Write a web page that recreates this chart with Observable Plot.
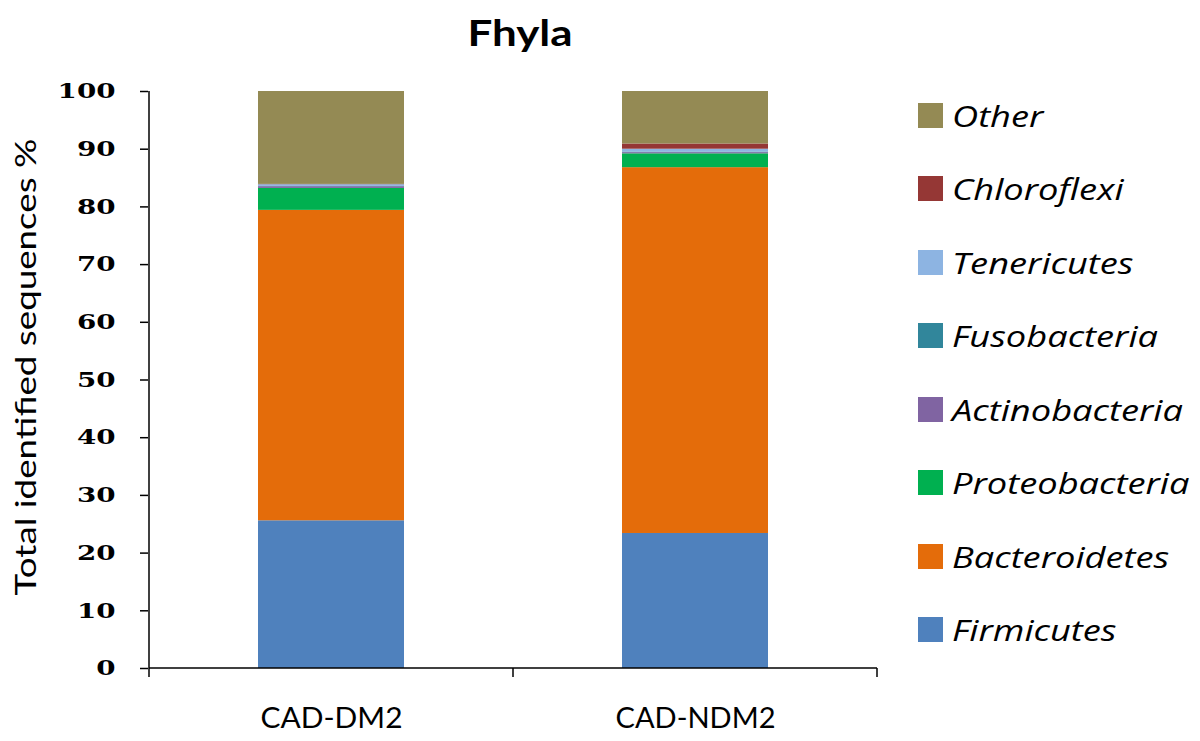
<!DOCTYPE html>
<html>
<head>
<meta charset="utf-8">
<script src="https://cdn.jsdelivr.net/npm/d3@7"></script>
<script src="https://cdn.jsdelivr.net/npm/@observablehq/plot@0.6"></script>
<style>
  body { margin: 0; background: #fff; }
  #wrap { position: relative; width: 1200px; height: 741px; overflow: hidden; }
  #title { position: relative; height: 60px; }
  #title span { position: absolute; left: 520px; top: 12px; transform: translateX(-50%) scaleX(1.22); font-family: Lato, "Open Sans", sans-serif; font-weight: bold; font-size: 36px; line-height: 40px; color: #000; white-space: nowrap; }
  #legend { position: absolute; left: 918px; top: 0; font-family: "Open Sans", Lato, sans-serif; font-style: italic; font-size: 29px; }
  .item { position: absolute; left: 0; display: flex; align-items: center; white-space: nowrap; height: 30px; }
  .sw { width: 25px; height: 25px; margin-right: 9px; flex: none; }
  .lt { display: inline-block; transform: scaleX(1.25); transform-origin: left center; }
</style>
</head>
<body>
<div id="wrap">
  <div id="title"><span>Fhyla</span></div>
  <div id="chart"></div>
  <div id="legend"></div>
</div>
<script>
const groups = ["CAD-DM2", "CAD-NDM2"];
const phyla = ["Firmicutes", "Bacteroidetes", "Proteobacteria", "Actinobacteria", "Fusobacteria", "Tenericutes", "Chloroflexi", "Other"];
const colors = ["#4F81BD", "#E46C0A", "#00B050", "#8064A2", "#31869B", "#8DB4E2", "#953735", "#948A54"];
const dm2 = [25.6, 53.8, 3.8, 0.3, 0.05, 0.3, 0.05, 16.1];
const ndm2 = [23.4, 63.4, 2.4, 0.2, 0.1, 0.5, 0.9, 9.1];
const yTicks = [0, 10, 20, 30, 40, 50, 60, 70, 80, 90, 100];
const yLabel = "Total identified sequences %";

const data = [];
[dm2, ndm2].forEach((vals, gi) => {
  vals.forEach((v, i) => data.push({group: groups[gi], phylum: phyla[i], value: v}));
});

const chart = Plot.plot({
  width: 1200,
  height: 681,
  marginLeft: 148,
  marginRight: 323,
  marginTop: 31,
  marginBottom: 73,
  style: {background: "#fff", color: "#000"},
  x: {domain: groups, paddingInner: 0.6, paddingOuter: 0.3, label: null},
  y: {domain: [0, 100], ticks: yTicks, label: null},
  color: {domain: phyla, range: colors},
  marks: [
    Plot.barY(data, Plot.stackY({order: phyla}, {x: "group", y: "value", fill: "phylum"})),
    Plot.axisY({ticks: yTicks, tickSize: 8, tickPadding: 25, tickFormat: d => String(d), fontFamily: "DejaVu Serif", fontWeight: "bold", fontSize: 21, label: null, strokeWidth: 1.5, className: "ytick"}),
    Plot.axisX({tickSize: 0, tickPadding: 40, fontFamily: "Lato", fontSize: 28, label: null, className: "xtick"}),
    Plot.text([yLabel], {frameAnchor: "left", textAnchor: "middle", dx: -122, dy: -13, rotate: -90, fontFamily: "Lato", fontSize: 29, text: d => d, className: "ylab"})
  ]
});
document.getElementById("chart").appendChild(chart);

const svg = d3.select(chart);
// stretch texts to the reference's proportions
svg.selectAll(".ytick text").each(function() {
  const t = d3.select(this);
  t.attr("textLength", t.text().length * 19.3).attr("lengthAdjust", "spacingAndGlyphs");
});
svg.selectAll(".xtick text").each(function() {
  const t = d3.select(this);
  t.attr("textLength", t.text().length === 7 ? 142 : 160).attr("lengthAdjust", "spacingAndGlyphs");
});
svg.selectAll(".ylab text").attr("textLength", 457).attr("lengthAdjust", "spacingAndGlyphs");

// axis lines and x boundary ticks, positioned with the scales
const xs = chart.scale("x"), ys = chart.scale("y");
const y0 = ys.apply(0), y100 = ys.apply(100);
const step = xs.step;
const left = xs.apply(groups[0]) - (step - xs.bandwidth) / 2;
svg.append("line").attr("x1", left).attr("x2", left).attr("y1", y100).attr("y2", y0).attr("stroke", "#000").attr("stroke-width", 1.5);
const bounds = [0, 1, 2].map(i => left + i * step);
svg.append("line").attr("x1", bounds[0]).attr("x2", bounds[2]).attr("y1", y0).attr("y2", y0).attr("stroke", "#000").attr("stroke-width", 1.5);
bounds.forEach(b => svg.append("line").attr("x1", b).attr("x2", b).attr("y1", y0).attr("y2", y0 + 9).attr("stroke", "#000").attr("stroke-width", 1.5));

// legend
const leg = document.getElementById("legend");
const legTop = 100, legStep = 73.5;
phyla.slice().reverse().forEach((p, i) => {
  const d = document.createElement("div");
  d.className = "item";
  d.style.top = (legTop + i * legStep) + "px";
  d.innerHTML = `<span class="sw" style="background:${colors[phyla.indexOf(p)]}"></span><span class="lt">${p}</span>`;
  leg.appendChild(d);
});
</script>
</body>
</html>
